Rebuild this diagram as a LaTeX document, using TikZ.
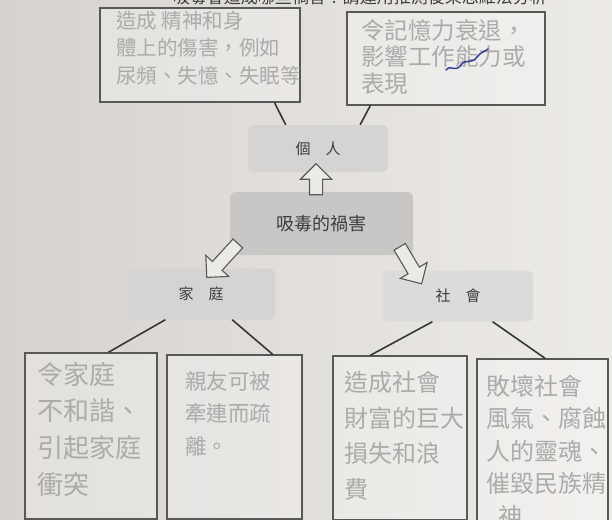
\documentclass[tikz,border=0pt]{standalone}
\usepackage{fontspec}
\newfontfamily\cjk{Noto Sans CJK TC}
\usetikzlibrary{shapes.arrows,calc}
\definecolor{paperL}{RGB}{214,211,207}
\definecolor{paperR}{RGB}{237,235,232}
\definecolor{boxline}{RGB}{88,88,88}
\definecolor{conline}{RGB}{55,55,55}
\definecolor{hwgray}{RGB}{172,171,170}
\definecolor{printgray}{RGB}{60,60,60}
\definecolor{lightnode}{RGB}{213,212,211}
\definecolor{socnode}{RGB}{220,219,217}
\definecolor{mainnode}{RGB}{200,199,198}
\definecolor{arrowfill}{RGB}{236,234,231}
\definecolor{scribble}{RGB}{55,65,150}
\tikzset{
  hwbox/.style={draw=boxline, line width=1.3pt, fill=white, fill opacity=0.3, text opacity=1, inner sep=0pt},
  hwtext/.style={text=hwgray, align=left, anchor=north west, inner sep=0pt},
  graybox/.style={rounded corners=6pt, inner sep=0pt, text=printgray},
  conn/.style={draw=conline, line width=1.6pt},
  blockarr/.style={single arrow, draw=boxline, fill=arrowfill, line width=1.1pt, inner sep=6pt,
    single arrow head extend=9pt, single arrow head indent=0pt, minimum height=#1, outer sep=0pt},
  scrib/.style={draw=scribble, line width=1.5pt, line cap=round}
}
\begin{document}
\begin{tikzpicture}[x=1pt,y=-1pt]
\useasboundingbox (0,0) rectangle (612,519);
\clip (0,0) rectangle (612,519);
\shade[left color=paperL, right color=paperR] (0,0) rectangle (612,519);

% cut-off question line
\node[anchor=east, inner sep=0pt, text=printgray, font=\cjk\fontsize{17}{17}\selectfont] (q) at (564,-3) {吸毒會造成哪些禍害？請運用推測後果思維法分析。};

% handwriting boxes
\node[hwbox, minimum width=200pt, minimum height=94pt] (tl) at (200,55) {};
\node[hwbox, minimum width=198pt, minimum height=93pt] (tr) at (446,58.5) {};
\node[hwbox, minimum width=132pt, minimum height=166pt] (b1) at (91,436) {};
\node[hwbox, minimum width=135pt, minimum height=164pt] (b2) at (234.5,437) {};
\node[hwbox, minimum width=134pt, minimum height=164pt] (b3) at (400,438) {};
\node[hwbox, minimum width=131pt, minimum height=180pt] (b4) at (542.5,449) {};

% handwriting texts
\node[hwtext, font=\cjk\fontsize{20.5}{27.5}\selectfont] (tlt) at (116,11)
  {造成 精神和身\\體上的傷害，例如\\尿頻、失憶、失眠等};
\node[hwtext, font=\cjk\fontsize{23.5}{26.5}\selectfont] (trt) at (361,19)
  {令記憶力衰退，\\影響工作能力或\\表現};
\node[hwtext, font=\cjk\fontsize{26}{36.7}\selectfont] (b1t) at (37,362)
  {令家庭\\不和諧、\\引起家庭\\衝突};
\node[hwtext, font=\cjk\fontsize{21.5}{32.5}\selectfont] (b2t) at (185,371)
  {親友可被\\牽連而疏\\離。};
\node[hwtext, font=\cjk\fontsize{24}{35.7}\selectfont] (b3t) at (344,371)
  {造成社會\\財富的巨大\\損失和浪\\費};
\node[hwtext, font=\cjk\fontsize{24}{32.5}\selectfont] (b4t) at (486,375)
  {敗壞社會\\風氣、腐蝕\\人的靈魂、\\催毀民族精\\\hspace*{12pt}神};

% blue scribble
\draw[scrib] (446,70) .. controls (451,64) and (455,73) .. (461,65)
  .. controls (466,58) and (471,65) .. (477,57)
  .. controls (481,52) and (484,52) .. (488,49);

% gray category nodes
\node[graybox, fill=lightnode, minimum width=140pt, minimum height=47pt,
  font=\cjk\fontsize{15}{15}\selectfont] (pers) at (318,148.5) {\raisebox{-4pt}{個　人}};
\node[graybox, fill=mainnode, minimum width=183pt, minimum height=63pt,
  font=\cjk\fontsize{18}{18}\selectfont] (main) at (321.5,223.5) {\raisebox{-2pt}{吸毒的禍害}};
\node[graybox, fill=lightnode, minimum width=148pt, minimum height=51pt,
  font=\cjk\fontsize{15}{15}\selectfont] (fam) at (201,294) {\raisebox{-7pt}{家　庭}};
\node[graybox, fill=socnode, minimum width=150pt, minimum height=51pt,
  font=\cjk\fontsize{15}{15}\selectfont] (soc) at (458,296) {\raisebox{-6pt}{社　會}};

% connectors
\draw[conn] ($(pers.north west)!0.27!(pers.north east)$) -- ($(tl.south west)!0.87!(tl.south east)$);
\draw[conn] ($(pers.north west)!0.80!(pers.north east)$) -- ($(tr.south west)!0.12!(tr.south east)$);
\draw[conn] ($(fam.south west)!0.26!(fam.south east)$) -- ($(b1.north west)!0.63!(b1.north east)$);
\draw[conn] ($(fam.south west)!0.71!(fam.south east)$) -- ($(b2.north west)!0.78!(b2.north east)$);
\draw[conn] ($(soc.south west)!0.33!(soc.south east)$) -- ($(b3.north west)!0.28!(b3.north east)$);
\draw[conn] ($(soc.south west)!0.73!(soc.south east)$) -- ($(b4.north west)!0.52!(b4.north east)$);

% hollow block arrows
\node[blockarr=31pt, rotate=90] (up) at (316,182.5) {};
\node[blockarr=46pt, rotate=227.6] (la) at (224.5,258) {};
\node[blockarr=43pt, rotate=-59.3] (ra) at (409,262.5) {};
\end{tikzpicture}
\end{document}
